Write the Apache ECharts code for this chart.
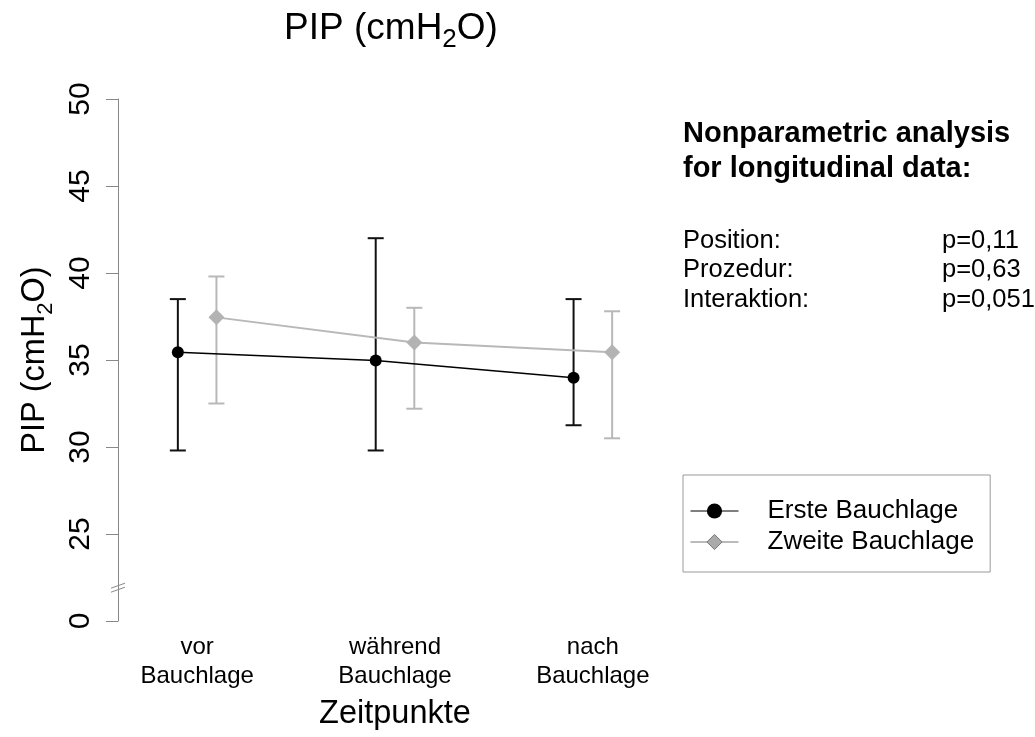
<!DOCTYPE html>
<html>
<head>
<meta charset="utf-8">
<script src="https://cdn.jsdelivr.net/npm/echarts@6/dist/echarts.min.js"></script>
<style>
  html, body { margin: 0; padding: 0; background: #fff; }
  #chart { width: 1035px; height: 737px; }
</style>
</head>
<body>
<div id="chart"></div>
<script>
// Zeitpunkte (x categories)
const categories = ['vor\nBauchlage', 'während\nBauchlage', 'nach\nBauchlage'];

// Erste Bauchlage: mean, lower and upper whisker
const ersteMean = [35.45, 34.97, 33.98];
const ersteLow = [29.8, 29.8, 31.25];
const ersteHigh = [38.5, 42.0, 38.5];

// Zweite Bauchlage
const zweiteMean = [37.45, 36.0, 35.45];
const zweiteLow = [32.5, 32.2, 30.5];
const zweiteHigh = [39.8, 38.0, 37.8];

// y tick labels, axis is broken below 25 (bottom tick stands for 0)
const yTickLabels = ['0', '25', '30', '35', '40', '45', '50'];

const statNames = ['Position:', 'Prozedur:', 'Interaktion:'];
const statValues = ['p=0,11', 'p=0,63', 'p=0,051'];

const FONT = '"Liberation Sans", Arial, sans-serif';
const dodge = 0.0975;

const chart = echarts.init(document.getElementById('chart'));

function errorBars(low, high, offset, color) {
  return {
    type: 'custom',
    name: 'err' + offset,
    data: low.map((lo, i) => [i + 1 + offset, lo, high[i]]),
    z: 1,
    renderItem: (params, api) => {
      const lo = api.coord([api.value(0), api.value(1)]);
      const hi = api.coord([api.value(0), api.value(2)]);
      const st = { stroke: color, lineWidth: 2 };
      return {
        type: 'group',
        children: [
          { type: 'line', shape: { x1: lo[0], y1: lo[1], x2: hi[0], y2: hi[1] }, style: st },
          { type: 'line', shape: { x1: lo[0] - 8, y1: lo[1], x2: lo[0] + 8, y2: lo[1] }, style: st },
          { type: 'line', shape: { x1: hi[0] - 8, y1: hi[1], x2: hi[0] + 8, y2: hi[1] }, style: st }
        ]
      };
    }
  };
}

const subRich = size => ({
  s: { fontSize: size, lineHeight: size, verticalAlign: 'bottom', fontFamily: FONT, color: '#000' }
});

const textGraphics = [
  {
    type: 'text', id: 'head', left: 683, top: 116,
    style: {
      text: 'Nonparametric analysis\nfor longitudinal data:',
      fontSize: 29, fontWeight: 'bold', fontFamily: FONT, fill: '#000', lineHeight: 35
    }
  },
  {
    type: 'text', id: 'names', left: 683, top: 226,
    style: { text: statNames.join('\n'), fontSize: 25.5, fontFamily: FONT, fill: '#000', lineHeight: 29.5 }
  },
  {
    type: 'text', id: 'vals', left: 942, top: 226,
    style: { text: statValues.join('\n'), fontSize: 25.5, fontFamily: FONT, fill: '#000', lineHeight: 29.5 }
  }
];

const option = {
  animation: false,
  title: {
    text: 'PIP (cmH{s|2}O)',
    left: 386,
    top: 0,
    textAlign: 'center',
    textStyle: {
      fontSize: 37, fontWeight: 'normal', color: '#000', fontFamily: FONT, lineHeight: 48,
      rich: subRich(26)
    }
  },
  legend: {
    orient: 'vertical',
    left: 683,
    top: 475,
    padding: [23, 16, 17, 7],
    itemWidth: 48,
    itemHeight: 19,
    itemGap: 5,
    borderColor: '#999',
    borderWidth: 1,
    textStyle: { fontSize: 26, lineHeight: 26, color: '#000', fontFamily: FONT, padding: [0, 0, 0, 24] },
    data: [
      { name: 'Erste Bauchlage', lineStyle: { width: 1, color: '#000' } },
      {
        name: 'Zweite Bauchlage',
        itemStyle: { color: '#aaaaaa', borderColor: '#777', borderWidth: 1 },
        lineStyle: { width: 1, color: '#777' }
      }
    ]
  },
  grid: { left: 118, right: 363, top: 99, bottom: 116 },
  xAxis: {
    type: 'value',
    min: 0.6,
    max: 3.4,
    axisLine: { show: false },
    axisTick: { show: false },
    splitLine: { show: false },
    axisLabel: {
      customValues: [1, 2, 3],
      formatter: v => categories[Math.round(v) - 1],
      fontSize: 24, lineHeight: 29, margin: 12, color: '#000', fontFamily: FONT
    },
    name: 'Zeitpunkte',
    nameLocation: 'middle',
    nameGap: 77,
    nameTextStyle: { fontSize: 32.5, color: '#000', fontFamily: FONT }
  },
  yAxis: {
    type: 'value',
    min: 20,
    max: 50,
    interval: 5,
    axisLine: { show: true, lineStyle: { color: '#888', width: 1 } },
    axisTick: { show: true, length: 12, lineStyle: { color: '#888', width: 1 } },
    splitLine: { show: false },
    axisLabel: {
      rotate: 90, fontSize: 30, margin: 22, color: '#000', fontFamily: FONT,
      formatter: v => yTickLabels[Math.round((v - 20) / 5)]
    },
    name: 'PIP (cmH{s|2}O)',
    nameLocation: 'middle',
    nameGap: 61,
    nameTextStyle: { fontSize: 32.5, color: '#000', fontFamily: FONT, lineHeight: 44, rich: subRich(22) }
  },
  graphic: textGraphics,
  series: [
    errorBars(zweiteLow, zweiteHigh, dodge, '#b8b8b8'),
    errorBars(ersteLow, ersteHigh, -dodge, '#111'),
    {
      name: 'Zweite Bauchlage',
      type: 'line',
      data: zweiteMean.map((m, i) => [i + 1 + dodge, m]),
      symbol: 'diamond',
      symbolSize: [16, 16],
      itemStyle: { color: '#b3b3b3' },
      lineStyle: { color: '#b8b8b8', width: 2 },
      z: 2
    },
    {
      name: 'Erste Bauchlage',
      type: 'line',
      data: ersteMean.map((m, i) => [i + 1 - dodge, m]),
      symbol: 'circle',
      symbolSize: 12,
      itemStyle: { color: '#000' },
      lineStyle: { color: '#000', width: 1.5 },
      z: 3
    }
  ]
};

chart.setOption(option);

// break mark "//" on the y axis between 0 and 25
const bp = chart.convertToPixel({ xAxisIndex: 0, yAxisIndex: 0 }, [0.6, 22]);
const breakStyle = { stroke: '#888', lineWidth: 1 };
chart.setOption({
  graphic: textGraphics.concat([
    { type: 'line', id: 'br1', shape: { x1: bp[0] - 7, y1: bp[1] + 2, x2: bp[0] + 7, y2: bp[1] - 3 }, style: breakStyle },
    { type: 'line', id: 'br2', shape: { x1: bp[0] - 7, y1: bp[1] + 6, x2: bp[0] + 7, y2: bp[1] + 1 }, style: breakStyle }
  ])
});
</script>
</body>
</html>
